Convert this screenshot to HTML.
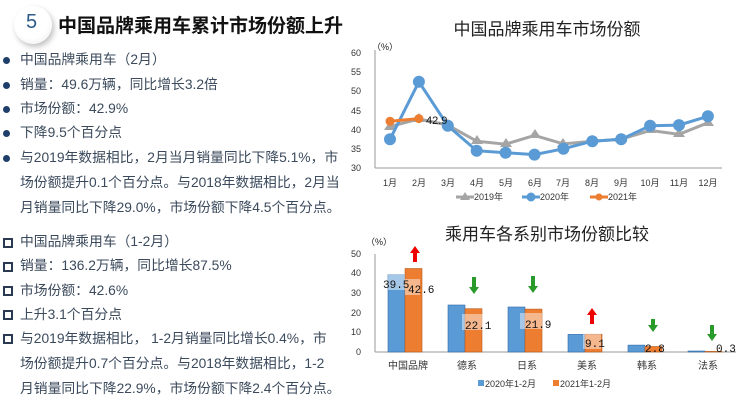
<!DOCTYPE html>
<html><head><meta charset="utf-8"><style>
html,body{margin:0;padding:0;background:#fff;width:744px;height:405px;overflow:hidden;font-family:"Liberation Sans","Noto Sans CJK SC",sans-serif;}
.t{position:absolute;left:0;top:0;}
.ln{position:absolute;left:20px;font-size:13.8px;color:#3b4a5c;white-space:nowrap;line-height:16px;}
.dot{position:absolute;left:3px;width:7px;height:7px;border-radius:50%;background:#1f3f6a;}
.sq{position:absolute;left:3px;width:6px;height:6px;border:2px solid #2a3a50;}
</style></head><body>
<div style="position:absolute;left:14px;top:6px;width:38px;height:38px;border-radius:50%;background:radial-gradient(circle at 45% 40%,#fff 55%,#e6e8ec 100%);box-shadow:2px 3px 6px rgba(0,0,0,0.25);"></div>
<div style="position:absolute;left:26px;top:11px;font-size:20px;color:#2d5a8a;">5</div>
<div style="position:absolute;left:58px;top:11px;font-size:19px;font-weight:bold;color:#111;white-space:nowrap;">中国品牌乘用车累计市场份额上升</div>

<div class="dot" style="top:57px"></div><div class="ln" style="top:52px">中国品牌乘用车（2月）</div>
<div class="dot" style="top:82px"></div><div class="ln" style="top:77px">销量：49.6万辆，同比增长3.2倍</div>
<div class="dot" style="top:106px"></div><div class="ln" style="top:101px">市场份额：42.9%</div>
<div class="dot" style="top:130px"></div><div class="ln" style="top:125px">下降9.5个百分点</div>
<div class="dot" style="top:155px"></div><div class="ln" style="top:150px">与2019年数据相比，2月当月销量同比下降5.1%，市</div>
<div class="ln" style="top:175px">场份额提升0.1个百分点。与2018年数据相比，2月当</div>
<div class="ln" style="top:200px">月销量同比下降29.0%，市场份额下降4.5个百分点。</div>

<div class="sq" style="top:238px"></div><div class="ln" style="top:234px">中国品牌乘用车（1-2月）</div>
<div class="sq" style="top:262px"></div><div class="ln" style="top:258px">销量：136.2万辆，同比增长87.5%</div>
<div class="sq" style="top:286px"></div><div class="ln" style="top:283px">市场份额：42.6%</div>
<div class="sq" style="top:310px"></div><div class="ln" style="top:307px">上升3.1个百分点</div>
<div class="sq" style="top:334px"></div><div class="ln" style="top:331px">与2019年数据相比， 1-2月销量同比增长0.4%，市</div>
<div class="ln" style="top:356px">场份额提升0.7个百分点。与2018年数据相比，1-2</div>
<div class="ln" style="top:381px">月销量同比下降22.9%，市场份额下降2.4个百分点。</div>

<svg class="t" width="744" height="405" viewBox="0 0 744 405" font-family="Liberation Sans, Noto Sans CJK SC, sans-serif">
<text x="547" y="35" font-size="17" text-anchor="middle" fill="#222">中国品牌乘用车市场份额</text>
<text x="372" y="50" font-size="9" fill="#222">（%）</text>
<g font-size="9" fill="#333" text-anchor="end">
<text x="361" y="56">60</text><text x="361" y="75">55</text><text x="361" y="94">50</text><text x="361" y="114">45</text><text x="361" y="133">40</text><text x="361" y="152">35</text><text x="361" y="171">30</text></g>
<line x1="375" y1="50" x2="375" y2="168" stroke="#999"/>
<line x1="375" y1="168" x2="722" y2="168" stroke="#999"/>
<g font-size="9" fill="#333" text-anchor="middle">
<text x="390" y="186">1月</text><text x="419" y="186">2月</text><text x="448" y="186">3月</text><text x="477" y="186">4月</text><text x="506" y="186">5月</text><text x="535" y="186">6月</text><text x="563" y="186">7月</text><text x="592" y="186">8月</text><text x="621" y="186">9月</text><text x="650" y="186">10月</text><text x="679" y="186">11月</text><text x="708" y="186">12月</text></g>
<polyline fill="none" stroke="#a5a5a5" stroke-width="3" points="390,126.6 418.9,118.9 447.8,125.1 476.7,141.2 505.6,144.2 534.5,135.4 563.4,143.9 592.3,141.2 621.2,139.3 650.1,130.4 679,134.3 707.9,122.8"/>
<g fill="#a5a5a5">
<polygon points="390,121 396,130 384,130"/><polygon points="419,113 425,122 413,122"/><polygon points="448,119 454,128 442,128"/><polygon points="477,135 483,144 471,144"/><polygon points="506,138 512,147 500,147"/><polygon points="535,129 541,138 529,138"/><polygon points="563,138 569,147 557,147"/><polygon points="592,135 598,144 586,144"/><polygon points="621,133 627,142 615,142"/><polygon points="650,124 656,133 644,133"/><polygon points="679,128 685,137 673,137"/><polygon points="708,117 714,126 702,126"/></g>
<polyline fill="none" stroke="#5b9bd5" stroke-width="3" points="390,139.3 418.9,81.8 447.8,125.8 476.7,150.7 505.6,152.7 534.5,154.6 563.4,148.8 592.3,141.2 621.2,139.3 650.1,125.8 679,125.1 707.9,116.3"/>
<g fill="#5b9bd5">
<circle cx="390" cy="139.3" r="6"/><circle cx="418.9" cy="81.8" r="6"/><circle cx="447.8" cy="125.8" r="6"/><circle cx="476.7" cy="150.7" r="6"/><circle cx="505.6" cy="152.7" r="6"/><circle cx="534.5" cy="154.6" r="6"/><circle cx="563.4" cy="148.8" r="6"/><circle cx="592.3" cy="141.2" r="6"/><circle cx="621.2" cy="139.3" r="6"/><circle cx="650.1" cy="125.8" r="6"/><circle cx="679" cy="125.1" r="6"/><circle cx="707.9" cy="116.3" r="6"/></g>
<polyline fill="none" stroke="#ed7d31" stroke-width="3" points="390,121.2 418.9,118.6"/>
<circle cx="390" cy="121.2" r="4.5" fill="#ed7d31"/><circle cx="418.9" cy="118.6" r="4.5" fill="#ed7d31"/>
<text x="426" y="124" font-size="11" fill="#111">42.9</text>
<g font-size="9" fill="#333">
<line x1="456" y1="197" x2="474" y2="197" stroke="#a5a5a5" stroke-width="3"/><polygon points="465,192 470,200 460,200" fill="#a5a5a5"/><text x="474" y="200">2019年</text>
<line x1="522" y1="197" x2="540" y2="197" stroke="#5b9bd5" stroke-width="3"/><circle cx="531" cy="197" r="4.5" fill="#5b9bd5"/><text x="540" y="200">2020年</text>
<line x1="590" y1="197" x2="608" y2="197" stroke="#ed7d31" stroke-width="3"/><circle cx="599" cy="197" r="3.5" fill="#ed7d31"/><text x="608" y="200">2021年</text></g>

<text x="547" y="240" font-size="17" text-anchor="middle" fill="#222">乘用车各系别市场份额比较</text>
<text x="366" y="245" font-size="9" fill="#222">（%）</text>
<g font-size="9" fill="#333" text-anchor="end">
<text x="361" y="257">50</text><text x="361" y="276">40</text><text x="361" y="296">30</text><text x="361" y="316">20</text><text x="361" y="335">10</text><text x="361" y="355">0</text></g>
<line x1="375" y1="254" x2="375" y2="352" stroke="#999"/>
<line x1="375" y1="352" x2="736" y2="352" stroke="#999"/>
<g fill="#5b9bd5" stroke="#2e6aa8" stroke-width="0.6">
<rect x="388" y="274.6" width="17" height="77.4"/><rect x="448" y="305" width="17" height="47"/><rect x="508" y="307" width="17" height="45"/><rect x="568" y="334.4" width="17" height="17.6"/><rect x="628" y="345.1" width="17" height="6.9"/><rect x="688" y="351" width="17" height="1"/></g>
<g fill="#ed7d31" stroke="#b85a1c" stroke-width="0.6">
<rect x="405" y="268.5" width="17" height="83.5"/><rect x="465" y="308.7" width="17" height="43.3"/><rect x="525" y="309.1" width="17" height="42.9"/><rect x="585" y="334.2" width="17" height="17.8"/><rect x="645" y="346.5" width="17" height="5.5"/><rect x="705" y="351.4" width="17" height="0.6"/></g>
<g fill="#fff" fill-opacity="0.45">
<rect x="388" y="274" width="17" height="16"/><rect x="405" y="279" width="15" height="16"/><rect x="462" y="314" width="22" height="16"/><rect x="520" y="313" width="22" height="16"/><rect x="583" y="333" width="18" height="16"/></g>
<g font-family="Liberation Mono, monospace" font-size="11" fill="#111">
<text x="383" y="288">39.5</text><text x="408" y="293">42.6</text><text x="465" y="329">22.1</text><text x="525" y="328">21.9</text><text x="585" y="347">9.1</text><text x="645" y="352">2.8</text><text x="716" y="352">0.3</text></g>
<g fill="#e00">
<polygon points="415,246 420,253 417,253 417,262 413,262 413,253 410,253"/>
<polygon points="592,308 597,315 594,315 594,324 590,324 590,315 587,315"/></g>
<g fill="#2a9a2a">
<polygon points="474,294 479,287 476,287 476,277 472,277 472,287 469,287"/>
<polygon points="533,293 538,286 535,286 535,276 531,276 531,286 528,286"/>
<polygon points="653,332 658,325 655,325 655,319 651,319 651,325 648,325"/>
<polygon points="712,341 717,334 714,334 714,325 710,325 710,334 707,334"/></g>
<g font-size="10" fill="#333" text-anchor="middle">
<text x="408" y="369">中国品牌</text><text x="467" y="369">德系</text><text x="527" y="369">日系</text><text x="587" y="369">美系</text><text x="647" y="369">韩系</text><text x="708" y="369">法系</text></g>
<g font-size="9" fill="#333">
<rect x="478" y="380" width="6" height="6" fill="#5b9bd5"/><text x="485" y="387">2020年1-2月</text>
<rect x="553" y="380" width="6" height="6" fill="#ed7d31"/><text x="560" y="387">2021年1-2月</text></g>
</svg>
</body></html>
